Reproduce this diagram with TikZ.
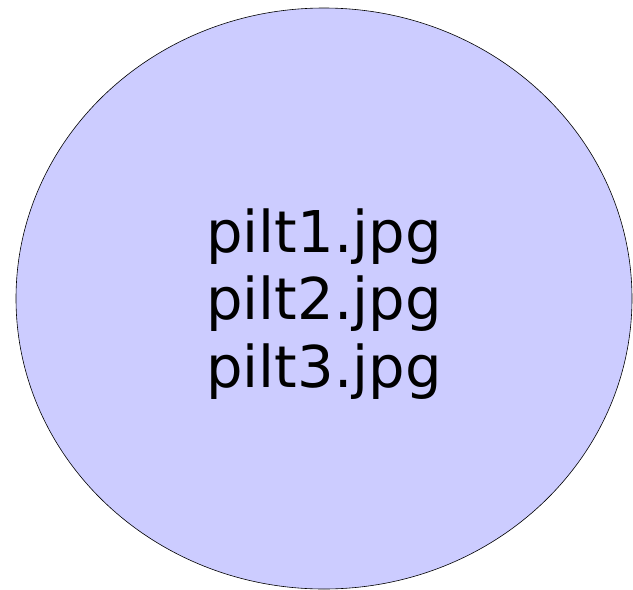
\documentclass[tikz,border=0pt]{standalone}
\usepackage{fontspec}
\setmainfont{DejaVu Sans}
\usetikzlibrary{shapes.geometric}
\definecolor{fillblue}{RGB}{204,204,255}
\begin{document}
\begin{tikzpicture}[x=1pt,y=1pt]
\useasboundingbox (0,0) rectangle (633,-590);
\draw[fill=fillblue,line width=0.6pt] (324,-298.5) ellipse [x radius=308, y radius=290.5];
\node[align=center,font=\fontsize{57.6}{67.5}\selectfont,inner sep=0pt] (t) at (324,-304) {pilt1.jpg\\pilt2.jpg\\pilt3.jpg};
\end{tikzpicture}
\end{document}
